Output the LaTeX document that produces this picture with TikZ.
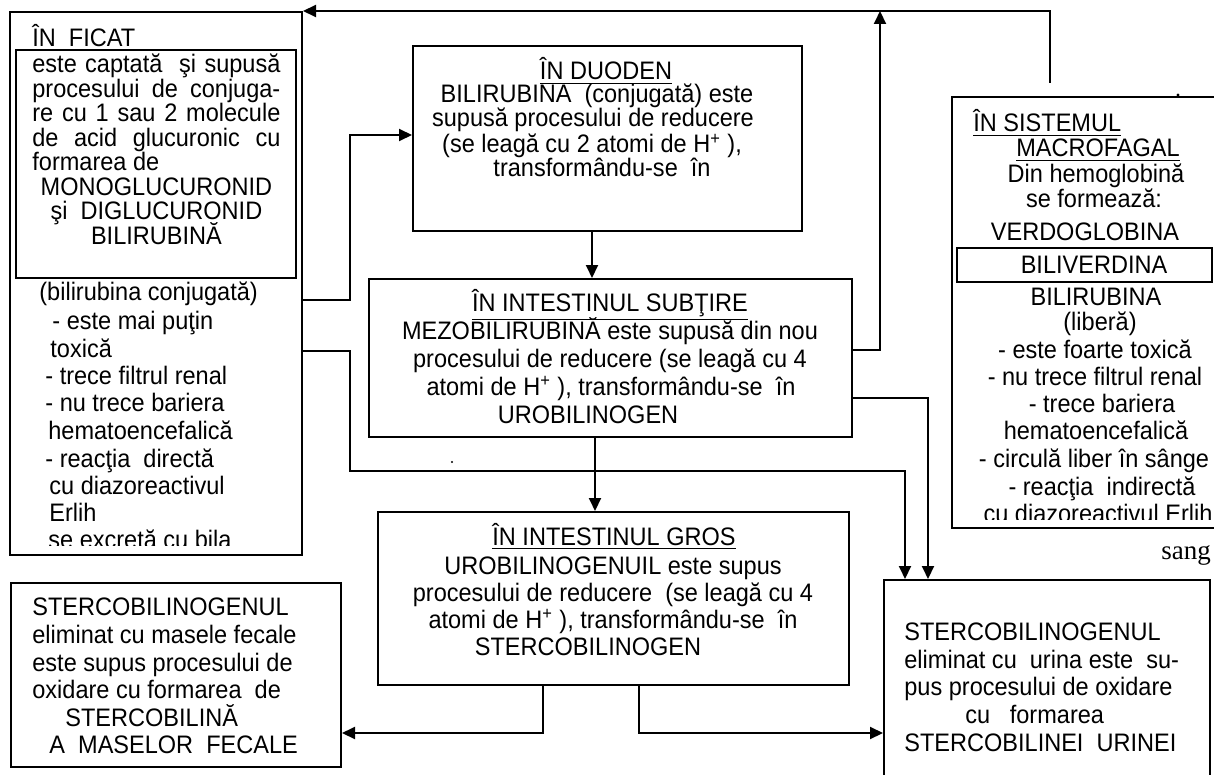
\documentclass[tikz,border=0pt]{standalone}
\usepackage{fontspec}
\setmainfont{Liberation Sans}[FakeStretch=0.93]
\newfontfamily\sangschrift{Liberation Serif}
\usetikzlibrary{arrows.meta,fit}

\tikzset{
    kasten/.style={draw, line width=1pt, inner sep=0pt},
    pfeil/.style={line width=1pt, -{Triangle[length=6.5pt,width=6pt]}},
    txt/.style={font=\fontsize{12.65pt}{13pt}\selectfont, inner sep=0pt, text=black}
}

\begin{document}
\begin{tikzpicture}[x=0.5pt, y=-0.5pt]
    \useasboundingbox (0,0) rectangle (1214,775);
    \clip (0,0) rectangle (1214,775);

    % Kaesten (Koordinaten in Pixeln)
    \node[kasten, fit={(10,12) (302,555)}] (ficat) {};
    \node[kasten, line width=1.2pt, fit={(16,50) (296,278)}] (konjug) {};
    \node[kasten, fit={(413,46) (802,231)}] (duoden) {};
    \node[kasten, fit={(369,279) (852,437)}] (duenn) {};
    \node[kasten, fit={(378,512) (849,685)}] (dick) {};
    \node[kasten, fit={(11,583) (341,767)}] (fekal) {};
    \node[kasten, fit={(884,580) (1210,780)}] (urin) {};
    \node[kasten, fit={(952,97) (1230,528)}] (makro) {};
    \node[kasten, fit={(957,248) (1212,282)}] (biliv) {};

    % In ficat
    \node[txt, anchor=base west] (ficatTitel) at (32,47) {\underline{ÎN\ \ FICAT}};
    \foreach \yPos/\ausr/\zeile [count=\i] in {73/s/este captată\ \ şi supusă,
                                               97.5/s/procesului de conjuga-,
                                               122/s/re cu 1 sau 2 molecule,
                                               146.5/s/de acid glucuronic cu,
                                               171/l/formarea de,
                                               195.5/c/MONOGLUCURONID,
                                               220/c/şi\ \ DIGLUCURONID,
                                               244.5/c/BILIRUBINĂ}
        {
            \node[txt, anchor=base west] (konjug\i) at (32,\yPos) {\makebox[124pt][\ausr]{\zeile}};
        }
    \begin{scope}
        \clip (16,280) rectangle (296,545);  % letzte Zeile abgeschnitten
        \foreach \yPos/\xPos/\zeile [count=\i] in {300/39/(bilirubina conjugată),
                                                   329/52/- este mai puţin,
                                                   357/50/toxică,
                                                   384/45/- trece filtrul renal,
                                                   411/45/- nu trece bariera,
                                                   439/48/hematoencefalică,
                                                   467/45/- reacţia\ \ directă,
                                                   494/49/cu diazoreactivul,
                                                   521/49/Erlih,
                                                   548/48/se excretă cu bila}
            {
                \node[txt, anchor=base west] (ficat\i) at (\xPos,\yPos) {\zeile};
            }
    \end{scope}

    % In duoden
    \foreach \yPos/\xPos/\zeile [count=\i] in {80/606/\underline{ÎN DUODEN},
                                               103/597/BILIRUBINA\ \ (conjugată) este,
                                               127/593/supusă procesului de reducere,
                                               153/592/{(se leagă cu 2 atomi de H\textsuperscript{+}\ ),},
                                               177/602/transformându-se\ \ în}
        {
            \node[txt, anchor=base] (duoden\i) at (\xPos,\yPos) {\zeile};
        }

    % In intestinul subtire
    \foreach \yPos/\xPos/\zeile [count=\i] in {311/610/\underline{ÎN INTESTINUL SUBŢIRE},
                                               339/610/MEZOBILIRUBINĂ este supusă din nou,
                                               367/610/procesului de reducere (se leagă cu 4,
                                               395/611/{atomi de H\textsuperscript{+}\ ), transformându-se\ \ în},
                                               423/588/UROBILINOGEN}
        {
            \node[txt, anchor=base] (duenn\i) at (\xPos,\yPos) {\zeile};
        }

    % In intestinul gros
    \foreach \yPos/\xPos/\zeile [count=\i] in {545/614/\underline{ÎN INTESTINUL GROS},
                                               574/613/UROBILINOGENUIL este supus,
                                               601/613/procesului de reducere\ \ (se leagă cu 4,
                                               628/613/{atomi de H\textsuperscript{+}\ ), transformându-se\ \ în},
                                               655/588/STERCOBILINOGEN}
        {
            \node[txt, anchor=base] (dick\i) at (\xPos,\yPos) {\zeile};
        }

    % Masele fecale
    \foreach \yPos/\xPos/\zeile [count=\i] in {615/32/STERCOBILINOGENUL,
                                               643/32/eliminat cu masele fecale,
                                               671/32/este supus procesului de,
                                               698/32/oxidare cu formarea\ \ de,
                                               726/65/STERCOBILINĂ,
                                               753/49/A\ \ MASELOR\ \ FECALE}
        {
            \node[txt, anchor=base west] (fekal\i) at (\xPos,\yPos) {\zeile};
        }

    % Urina
    \foreach \yPos/\xPos/\zeile [count=\i] in {640/904/STERCOBILINOGENUL,
                                               668/904/eliminat cu\ \ urina este\ \ su-,
                                               695/904/pus procesului de oxidare,
                                               723/965/cu\ \ \ formarea,
                                               751/904/STERCOBILINEI\ \ URINEI}
        {
            \node[txt, anchor=base west] (urin\i) at (\xPos,\yPos) {\zeile};
        }

    % Sistemul macrofagal
    \begin{scope}
        \clip (952,97) rectangle (1214,519);  % unten abgeschnitten
        \foreach \yPos/\xPos/\ankern/\zeile [count=\i] in {132/973/base west/\underline{ÎN SISTEMUL},
                                                           157/1098/base/\underline{MACROFAGAL},
                                                           183/1096/base/Din hemoglobină,
                                                           207/1094/base/se formează:,
                                                           241/1085/base/VERDOGLOBINA,
                                                           273/1094/base/BILIVERDINA,
                                                           305/1096/base/BILIRUBINA,
                                                           330/1100/base/(liberă),
                                                           358/1095/base/- este foarte toxică,
                                                           385/1095/base/- nu trece filtrul renal,
                                                           412/1102/base/- trece bariera,
                                                           439/1096/base/hematoencefalică,
                                                           467/1094/base/- circulă liber în sânge,
                                                           495/1102/base/- reacţia\ \ indirectă,
                                                           522/1098/base/cu diazoreactivul Erlih}
            {
                \node[txt, anchor=\ankern] (makro\i) at (\xPos,\yPos) {\zeile};
            }
    \end{scope}
    \node[font=\sangschrift\fontsize{13.5pt}{15pt}\selectfont, inner sep=0pt, anchor=base west] (sang) at (1161,559) {sang};

    % Knickpunkte der Verbindungen
    \coordinate (k1) at (350,300);
    \coordinate (k2) at (350,135);
    \coordinate (k3) at (350,351);
    \coordinate (k4) at (350,471);
    \coordinate (k5) at (905,471);
    \coordinate (k6) at (880,350);
    \coordinate (k7) at (928,398);
    \coordinate (k8) at (592,240);
    \coordinate (k9) at (595,450);
    \coordinate (k10) at (543,733);
    \coordinate (k11) at (639,733);
    \coordinate (mo) at (1050,83);

    % Pfeile
    \draw[pfeil] (ficat.east |- k1) -- (k1) -- (k2) -- (duoden.west |- k2);
    \draw[pfeil] (ficat.east |- k3) -- (k3) -- (k4) -- (k5) -- (urin.north -| k5);
    \draw[pfeil] (duoden.south -| k8) -- (duenn.north -| k8);
    \draw[pfeil] (duenn.east |- k6) -- (k6) -- (k6 |- ficat.north);
    \draw[pfeil] (mo) -- (mo |- ficat.north) -- (ficat.north east);
    \draw[pfeil] (duenn.east |- k7) -- (k7) -- (urin.north -| k7);
    \draw[pfeil] (duenn.south -| k9) -- (dick.north -| k9);
    \draw[pfeil] (dick.south -| k10) -- (k10) -- (fekal.east |- k10);
    \draw[pfeil] (dick.south -| k11) -- (k11) -- (urin.west |- k11);

    % Punkte
    \fill (1178,95) circle (0.8pt);
    \fill (452,462) circle (0.6pt);
\end{tikzpicture}
\end{document}
